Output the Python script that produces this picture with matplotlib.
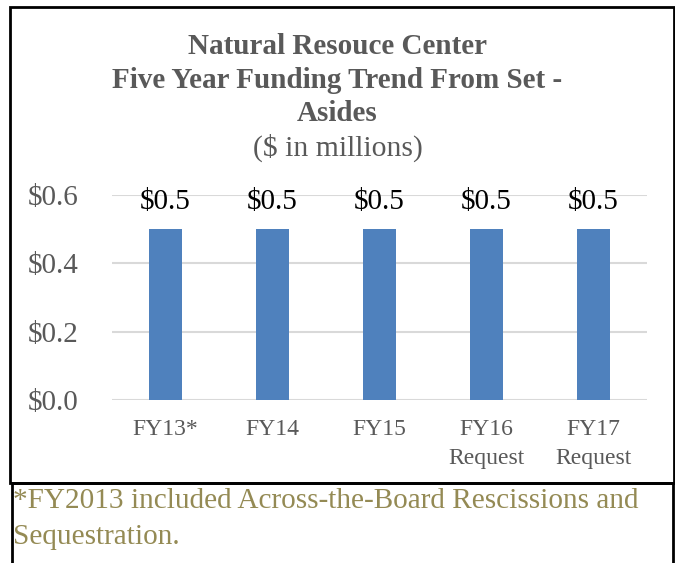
import numpy as np
import matplotlib.pyplot as plt
from matplotlib.patches import Rectangle
from matplotlib.ticker import FuncFormatter

# ---- data ----
categories = ["FY13*", "FY14", "FY15", "FY16\nRequest", "FY17\nRequest"]
funding = [0.5, 0.5, 0.5, 0.5, 0.5]   # $ in millions
y_ticks = [0.0, 0.2, 0.4, 0.6]

title_lines = "Natural Resouce Center\nFive Year Funding Trend From Set -\nAsides"
subtitle = "($ in millions)"
footnote = "*FY2013 included Across-the-Board Rescissions and\nSequestration."

plt.rcParams["font.family"] = ["Liberation Serif", "DejaVu Serif"]

W, H = 675, 563
fig = plt.figure(figsize=(W / 100, H / 100), dpi=100)


def fx(px):
    return px / W


def fy(py):
    return 1 - py / H


# plot area in pixel coords
left, right, top, bottom = 112, 647, 195, 400
ax = fig.add_axes([fx(left), fy(bottom), fx(right - left), (bottom - top) / H])

x = np.arange(len(categories))
bars = ax.bar(x, funding, width=0.31, color="#4F81BD", zorder=3)

ax.set_xlim(-0.5, len(categories) - 0.5)
ax.set_ylim(0, 0.6)
ax.set_yticks(y_ticks)
ax.yaxis.set_major_formatter(FuncFormatter(lambda v, p: f"${v:.1f}"))
ax.set_xticks(x)
ax.set_xticklabels(categories, fontsize=17, color="#595959", linespacing=1.45)

ax.tick_params(axis="y", length=0, pad=24, labelsize=21, labelcolor="#595959")
ax.tick_params(axis="x", length=0, pad=14)
ax.grid(axis="y", color="#D9D9D9", linewidth=1.5, zorder=0)
for s in ax.spines.values():
    s.set_visible(False)

# value labels above each bar
for b, v in zip(bars, funding):
    ax.annotate(f"${v:.1f}", (b.get_x() + b.get_width() / 2, v),
                xytext=(0, 10), textcoords="offset points",
                ha="center", va="bottom", fontsize=21, color="black")

# title block
fig.text(0.5, fy(80), title_lines, ha="center", va="center", fontsize=21,
         fontweight="bold", color="#595959", linespacing=1.3)
fig.text(0.5, fy(148), subtitle, ha="center", va="center", fontsize=21.4,
         color="#595959")

# chart frame and footnote frame
fig.add_artist(Rectangle((fx(10), fy(483)), fx(664), (483 - 7) / H,
                         transform=fig.transFigure, fill=False,
                         edgecolor="black", linewidth=2))
fig.add_artist(Rectangle((fx(12), fy(570)), fx(661), (570 - 483) / H,
                         transform=fig.transFigure, fill=False,
                         edgecolor="black", linewidth=2, clip_on=False))

fig.text(fx(13), fy(519), footnote, ha="left", va="center", fontsize=21.1,
         color="#948A54", linespacing=1.45)

fig.savefig("out.png", dpi=100)
